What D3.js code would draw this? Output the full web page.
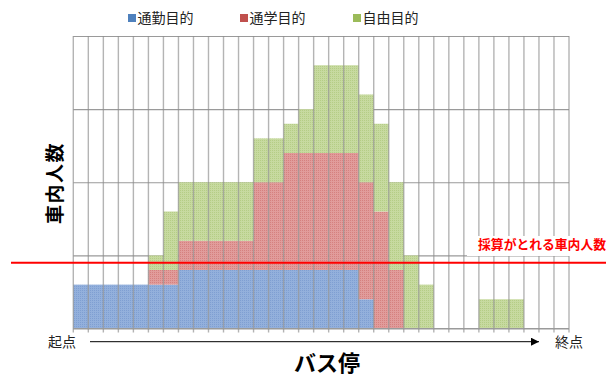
<!DOCTYPE html>
<html><head><meta charset="utf-8">
<script src="https://cdn.jsdelivr.net/npm/d3@7"></script>
<style>
html,body{margin:0;padding:0;background:#fff;}
svg{display:block;font-family:"Noto Sans CJK JP","Noto Sans",sans-serif;}
</style></head>
<body><svg id="c" width="606" height="376"></svg>
<script>
const stops = d3.range(33).map(i => "停" + (i + 1));
const seriesNames = ["通勤目的", "通学目的", "自由目的"];
const commute = [6,6,6,6,6,6,6,8,8,8,8,8,8,8,8,8,8,8,8,4,0,0,0,0,0,0,0,0,0,0,0,0,0];
const school  = [0,0,0,0,0,2,2,4,4,4,4,4,12,12,16,16,16,16,16,16,16,8,0,0,0,0,0,0,0,0,0,0,0];
const free    = [0,0,0,0,0,2,8,8,8,8,8,8,6,6,4,6,12,12,12,12,12,12,10,6,0,0,0,4,4,4,0,0,0];
const yTicks = [0, 10, 20, 30, 40];
const breakEven = 9;
const breakEvenLabel = "採算がとれる車内人数";
const yTitle = "車内人数";
const xTitle = "バス停";
const startLabel = "起点";
const endLabel = "終点";

const colors = ["#4f81bd", "#c0504d", "#9bbb59"];
const fills = [["#93b0dc", "#7f9fd2"], ["#e19c9b", "#d5817f"], ["#c7daa0", "#b5cd86"]];

const svg = d3.select("#c");
const defs = svg.append("defs");
fills.forEach((f, i) => {
  const p = defs.append("pattern").attr("id", "pat" + i).attr("patternUnits", "userSpaceOnUse")
    .attr("width", 2).attr("height", 2);
  p.append("rect").attr("width", 2).attr("height", 2).attr("fill", f[0]);
  p.append("rect").attr("width", 1).attr("height", 1).attr("fill", f[1]);
});

const pLeft = 73.3, pRight = 569, pTop = 36, pBottom = 328.5;
const x = d3.scaleBand().domain(stops).range([pLeft, pRight]).paddingInner(0).paddingOuter(0);
const y = d3.scaleLinear().domain([0, 40]).range([pBottom, pTop]);

const rows = stops.map((s, i) => ({stop: s, [seriesNames[0]]: commute[i], [seriesNames[1]]: school[i], [seriesNames[2]]: free[i]}));
const stacked = d3.stack().keys(seriesNames)(rows);

// horizontal gridlines
svg.append("g").attr("transform", `translate(${pLeft},0)`)
  .call(d3.axisLeft(y).tickValues(yTicks).tickSize(-(pRight - pLeft)).tickFormat(""))
  .call(g => g.select(".domain").remove())
  .call(g => g.selectAll("line").attr("stroke", "#9a9a9a").attr("stroke-width", 1.2));

// bars
svg.append("g").selectAll("g").data(stacked).join("g")
  .attr("fill", (d, i) => `url(#pat${i})`)
  .selectAll("rect").data(d => d).join("rect")
  .attr("x", d => x(d.data.stop))
  .attr("width", x.bandwidth())
  .attr("y", d => y(d[1]))
  .attr("height", d => y(d[0]) - y(d[1]));

// vertical gridlines + ticks
const vx = stops.map(s => x(s)).concat([pRight]);
svg.append("g").selectAll("line").data(vx).join("line")
  .attr("x1", d => d).attr("x2", d => d)
  .attr("y1", pTop).attr("y2", pBottom + 4)
  .attr("stroke", "#8c8c8c").attr("stroke-opacity", 0.65).attr("stroke-width", 1.4);

// bottom axis line
svg.append("line").attr("x1", pLeft).attr("x2", pRight).attr("y1", pBottom).attr("y2", pBottom)
  .attr("stroke", "#9a9a9a").attr("stroke-width", 1.2);

// label box
svg.append("rect").attr("x", 467).attr("y", 236).attr("width", 139).attr("height", 20).attr("fill", "#fff");
svg.append("text").attr("x", 606).attr("y", 248.5).attr("text-anchor", "end")
  .attr("font-size", 12.8).attr("font-weight", "bold").attr("fill", "#ff0000").text(breakEvenLabel);

// break-even line
svg.append("line").attr("x1", 11).attr("x2", 606).attr("y1", y(breakEven)).attr("y2", y(breakEven))
  .attr("stroke", "#ff0000").attr("stroke-width", 2);

// legend
const legX = [128, 240, 353];
const leg = svg.append("g").selectAll("g").data(seriesNames).join("g")
  .attr("transform", (d, i) => `translate(${legX[i]},18)`);
leg.append("rect").attr("x", 0).attr("y", -4).attr("width", 8).attr("height", 8).attr("fill", (d, i) => colors[i]);
leg.append("text").attr("x", 9.5).attr("y", 5).attr("font-size", 14).attr("fill", "#222").text(d => d);

// y title
svg.append("text").attr("transform", "translate(62,183) rotate(-90)").attr("text-anchor", "middle")
  .attr("font-size", 19).attr("font-weight", "bold").attr("fill", "#000").attr("letter-spacing", 1.5).text(yTitle);

// x title
svg.append("text").attr("x", 327).attr("y", 371).attr("text-anchor", "middle")
  .attr("font-size", 22).attr("font-weight", "bold").attr("fill", "#000").text(xTitle);

// start / end
svg.append("text").attr("x", 48).attr("y", 347).attr("font-size", 14).attr("fill", "#222").text(startLabel);
svg.append("text").attr("x", 555).attr("y", 347).attr("font-size", 14).attr("fill", "#222").text(endLabel);

// arrow
defs.append("marker").attr("id", "arr").attr("viewBox", "0 0 10 10").attr("refX", 10).attr("refY", 5)
  .attr("markerWidth", 8).attr("markerHeight", 8).attr("markerUnits", "userSpaceOnUse").attr("orient", "auto")
  .append("path").attr("d", "M0,0L10,5L0,10z").attr("fill", "#000");
svg.append("line").attr("x1", 90).attr("x2", 539).attr("y1", 341.7).attr("y2", 341.7)
  .attr("stroke", "#000").attr("stroke-width", 1).attr("marker-end", "url(#arr)");
</script></body></html>
